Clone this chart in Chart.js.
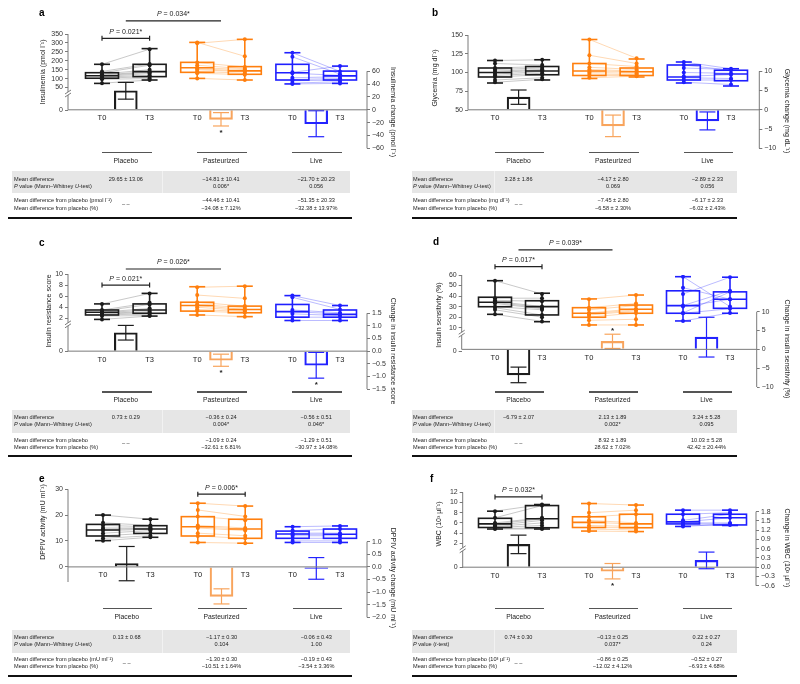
<!DOCTYPE html>
<html>
<head>
<meta charset="utf-8">
<title>Figure</title>
<script src="https://cdn.jsdelivr.net/npm/chart.js@4.4.1/dist/chart.umd.min.js"></script>
<style>
  html, body { margin: 0; padding: 0; background: #fff; }
  body { position: relative; width: 800px; height: 684px; overflow: hidden; font-family: "Liberation Sans", Arial, sans-serif; color: #222; }
  canvas { position: absolute; }
  .t { position: absolute; white-space: nowrap; line-height: 1; }
  .r { position: absolute; }
</style>
</head>
<body>
<script>
// Shared labels
const groupNames = ["Placebo", "Pasteurized", "Live"];
const timeLabels = ["T0", "T3", "T0", "T3", "T0", "T3"];

// Boxes are [min, q1, median, q3, max] for Placebo T0, T3, Pasteurized T0, T3, Live T0, T3
// Pairs are [T0, T3] per subject

// a - insulinemia
const aBoxes = [[73, 102, 116, 133, 180], [92, 111, 139, 180, 268], [101, 135, 161, 191, 303], [92, 124, 143, 167, 320], [70, 92, 133, 180, 245], [73, 92, 115, 142, 170]];
const aPlacebo = [[180, 265], [140, 182], [132, 175], [125, 150], [120, 140], [116, 135], [112, 128], [108, 118], [103, 110], [96, 100], [74, 92]];
const aPasteurized = [[303, 225], [298, 320], [190, 165], [175, 155], [162, 150], [155, 143], [150, 138], [140, 130], [130, 122], [101, 92]];
const aLive = [[245, 140], [222, 125], [135, 170], [130, 118], [105, 110], [95, 100], [88, 92], [75, 82], [70, 73]];
const aChange = [29.65, -14.81, -21.70];
const aChangeSE = [13.06, 10.41, 20.23];
const aStars = [0, 1, 0];
const aPValue = ["", "0.006*", "0.056"];
const aFromPlacebo = ["", "−44.46 ± 10.41", "−51.35 ± 20.33"];
const aFromPlaceboPct = ["", "−34.08 ± 7.12%", "−32.38 ± 13.97%"];
const aLeftTicks = [50, 100, 150, 200, 250, 300, 350];
const aRightTicks = [-60, -40, -20, 0, 20, 40, 60];

// b - glycemia
const bBoxes = [[86, 94, 100, 106, 116], [90, 97, 102, 108, 117], [92, 96, 102, 112, 144], [94, 96, 101, 106, 118], [86, 90, 94, 110, 114], [82, 89, 98, 103, 105]];
const bPlacebo = [[116, 117], [112, 110], [106, 108], [104, 106], [102, 104], [100, 103], [98, 101], [96, 99], [94, 97], [90, 93], [87, 91]];
const bPasteurized = [[144, 119], [123, 112], [112, 108], [107, 104], [104, 102], [102, 101], [100, 99], [98, 97], [96, 96], [93, 95]];
const bLive = [[114, 105], [110, 103], [106, 104], [100, 99], [95, 97], [93, 92], [90, 90], [87, 84]];
const bChange = [3.28, -4.17, -2.89];
const bChangeSE = [1.86, 2.80, 2.33];
const bStars = [0, 0, 0];
const bPValue = ["", "0.069", "0.056"];
const bFromPlacebo = ["", "−7.45 ± 2.80", "−6.17 ± 2.33"];
const bFromPlaceboPct = ["", "−6.58 ± 2.30%", "−6.02 ± 2.43%"];
const bLeftTicks = [50, 75, 100, 125, 150];
const bRightTicks = [-10, -5, 0, 5, 10];

// c - insulin resistance
const cBoxes = [[1.8, 2.6, 3.1, 3.5, 4.6], [2.4, 2.9, 3.5, 4.6, 6.5], [2.6, 3.3, 4.3, 4.9, 7.7], [2.3, 3.0, 3.6, 4.2, 7.8], [1.6, 2.2, 3.2, 4.5, 6.1], [1.6, 2.2, 2.7, 3.5, 4.3]];
const cPlacebo = [[4.6, 6.5], [3.5, 4.8], [3.3, 4.5], [3.1, 3.8], [3.0, 3.5], [2.9, 3.2], [2.8, 3.0], [2.6, 2.8], [2.4, 2.5], [1.8, 2.4]];
const cPasteurized = [[7.6, 7.8], [6.2, 5.6], [4.9, 4.2], [4.5, 3.9], [4.3, 3.6], [4.0, 3.4], [3.6, 3.2], [3.3, 3.0], [2.6, 2.3]];
const cLive = [[6.1, 4.3], [5.8, 3.6], [3.5, 3.0], [3.2, 2.8], [2.8, 2.5], [2.2, 2.2], [1.6, 1.6]];
const cChange = [0.73, -0.36, -0.56];
const cChangeSE = [0.29, 0.24, 0.51];
const cStars = [0, 1, 1];
const cPValue = ["", "0.004*", "0.046*"];
const cFromPlacebo = ["", "−1.09 ± 0.24", "−1.29 ± 0.51"];
const cFromPlaceboPct = ["", "−32.61 ± 6.81%", "−30.97 ± 14.08%"];
const cLeftTicks = [2, 4, 6, 8, 10];
const cRightTicks = [-1.5, -1, -0.5, 0, 0.5, 1, 1.5];

// d - insulin sensitivity
const dBoxes = [[22.7, 29.9, 34.1, 38.9, 54.6], [15.7, 22.1, 30, 35.6, 42.7], [12.6, 19.9, 23.7, 29, 37.3], [12.6, 23.7, 27.5, 31.5, 41], [16.4, 23.7, 30.9, 45, 58.4], [23.7, 28.4, 37, 44, 57.9]];
const dPlacebo = [[54.6, 42], [38, 38], [36, 35], [35, 30], [34, 29], [33, 28], [30, 27], [29, 22], [27, 20], [22.7, 16]];
const dPasteurized = [[37, 41], [29, 33], [27, 31], [24, 28], [23, 27], [22, 26], [20, 24], [17, 18], [12.6, 12.6]];
const dLive = [[58.4, 30], [48, 37], [42, 57.9], [31, 45], [30, 37], [24, 44], [23.7, 28], [16.4, 24]];
const dChange = [-6.79, 2.13, 3.24];
const dChangeSE = [2.07, 1.89, 5.28];
const dStars = [0, 1, 0];
const dPValue = ["", "0.002*", "0.095"];
const dFromPlacebo = ["", "8.92 ± 1.89", "10.03 ± 5.28"];
const dFromPlaceboPct = ["", "28.62 ± 7.02%", "42.42 ± 20.44%"];
const dLeftTicks = [10, 20, 30, 40, 50, 60];
const dRightTicks = [-10, -5, 0, 5, 10];

// e - DPPIV activity
const eBoxes = [[10.1, 11.9, 14.2, 16.4, 20], [11.4, 12.9, 14.6, 15.9, 18.4], [9.4, 11.9, 15.5, 19.4, 24.6], [9.1, 11, 14.6, 18.4, 23.5], [9.4, 11, 12.7, 13.8, 15.5], [9.4, 11, 12.6, 14.6, 15.8]];
const ePlacebo = [[20, 18.4], [17, 16], [16, 15.5], [15, 15], [14.5, 14.8], [14, 14.5], [13, 14], [12, 13], [11, 12], [10.1, 11.4]];
const ePasteurized = [[24.6, 23.5], [22, 19.5], [19.5, 18], [16, 15], [15.5, 14.5], [15, 14], [13, 12], [11.9, 11], [9.4, 9.1]];
const eLive = [[15.5, 15.8], [14, 14.6], [13, 13], [12.5, 12.6], [12, 12], [11, 11], [10, 10], [9.4, 9.4]];
const eChange = [0.13, -1.17, -0.06];
const eChangeSE = [0.68, 0.30, 0.43];
const eStars = [0, 0, 0];
const ePValue = ["", "0.104", "1.00"];
const eFromPlacebo = ["", "−1.30 ± 0.30", "−0.19 ± 0.43"];
const eFromPlaceboPct = ["", "−10.51 ± 1.64%", "−3.54 ± 3.36%"];
const eLeftTicks = [0, 10, 20, 30];
const eRightTicks = [-2, -1.5, -1, -0.5, 0, 0.5, 1];

// f - white blood cells
const fBoxes = [[4.8, 5.1, 5.8, 6.9, 8.3], [4.8, 5.05, 6.8, 9.4, 9.6], [4.4, 5.1, 6.1, 7.2, 9.8], [4.3, 5.05, 5.8, 7.7, 9.5], [5.3, 5.8, 6.2, 7.7, 8.5], [5.5, 5.6, 7.0, 7.7, 8.5]];
const fPlacebo = [[8.3, 9.6], [7, 9.4], [6, 7], [5.8, 6.8], [5.5, 6.5], [5.3, 6], [5.1, 5.5], [4.9, 5.0], [4.8, 4.8]];
const fPasteurized = [[9.8, 9.5], [8, 8.5], [7.2, 7.7], [6.5, 6.0], [6.1, 5.8], [5.5, 5.3], [5.1, 5.05], [4.8, 4.6], [4.4, 4.3]];
const fLive = [[8.5, 8.5], [7.7, 8.0], [6.5, 7.7], [6.2, 7.0], [6.0, 6.0], [5.8, 5.8], [5.5, 5.6], [5.3, 5.8]];
const fChange = [0.74, -0.13, 0.22];
const fChangeSE = [0.30, 0.25, 0.27];
const fStars = [0, 1, 0];
const fPValue = ["", "0.037*", "0.24"];
const fFromPlacebo = ["", "−0.86 ± 0.25", "−0.52 ± 0.27"];
const fFromPlaceboPct = ["", "−12.02 ± 4.12%", "−6.93 ± 4.68%"];
const fLeftTicks = [2, 4, 6, 8, 10, 12];
const fRightTicks = [-0.6, -0.3, 0, 0.3, 0.6, 0.9, 1.2, 1.5, 1.8];

const mwLabel = "<i>P</i> value (Mann–Whitney <i>U</i>-test)";
const pctLabel = "Mean difference from placebo (%)";

// Panel layout (page pixels); axis anchors are [value, y] pairs
const panels = [
  { key: "a", col: 0, row: 0, top: 0, height: 168, letter: [42, 13],
    boxes: aBoxes, pairs: [aPlacebo, aPasteurized, aLive], change: aChange, se: aChangeSE, stars: aStars,
    pval: aPValue, fromPl: aFromPlacebo, fromPlPct: aFromPlaceboPct,
    leftTicks: aLeftTicks, leftDec: 0, rightTicks: aRightTicks, rightDec: 0,
    area: { left: 68, right: 367, top: 34, bottom: 148.3 }, xAt: [102, 340],
    leftAnchor: [[350, 34], [50, 87.5]], zeroY: 110, broken: true,
    rightAnchor: [[60, 71.3], [-60, 148.3]],
    leftTitle: ["Insulinemia (pmol l⁻¹)", 43, 72], rightTitle: ["Insulinemia change (pmol l⁻¹)", 393, 112],
    brackets: [{ from: 0, to: 1, at: 326, text: "0.021*", ends: true }, { from: 0.5, to: 2.5, at: 424, text: "0.034*", ends: false }],
    rowLabels: ["Mean difference", mwLabel, "Mean difference from placebo (pmol l⁻¹)", pctLabel] },
  { key: "b", col: 1, row: 0, top: 0, height: 168, letter: [435, 13],
    boxes: bBoxes, pairs: [bPlacebo, bPasteurized, bLive], change: bChange, se: bChangeSE, stars: bStars,
    pval: bPValue, fromPl: bFromPlacebo, fromPlPct: bFromPlaceboPct,
    leftTicks: bLeftTicks, leftDec: 0, rightTicks: bRightTicks, rightDec: 0,
    area: { left: 468, right: 759.3, top: 35, bottom: 148.3 }, xAt: [495, 731],
    leftAnchor: [[150, 35], [50, 110]], zeroY: 110, broken: false,
    rightAnchor: [[10, 71.3], [-10, 148.3]],
    leftTitle: ["Glycemia (mg dl⁻¹)", 435, 78], rightTitle: ["Glycemia change (mg dL⁻¹)", 787, 111],
    brackets: [],
    rowLabels: ["Mean difference", mwLabel, "Mean difference from placebo (mg dl⁻¹)", pctLabel] },
  { key: "c", col: 0, row: 1, top: 228, height: 178, letter: [42, 243],
    boxes: cBoxes, pairs: [cPlacebo, cPasteurized, cLive], change: cChange, se: cChangeSE, stars: cStars,
    pval: cPValue, fromPl: cFromPlacebo, fromPlPct: cFromPlaceboPct,
    leftTicks: cLeftTicks, leftDec: 0, rightTicks: cRightTicks, rightDec: 1,
    area: { left: 68, right: 367, top: 274, bottom: 389 }, xAt: [102, 340],
    leftAnchor: [[10, 274], [2, 318.3]], zeroY: 351, broken: true,
    rightAnchor: [[1.5, 313.3], [-1.5, 389]],
    leftTitle: ["Insulin resistance score", 49, 311], rightTitle: ["Change in insulin resistance score", 393, 351],
    brackets: [{ from: 0, to: 1, at: 8.0, text: "0.021*", ends: true }, { from: 0.5, to: 2.5, at: 10.9, text: "0.026*", ends: false }],
    rowLabels: ["Mean difference", mwLabel, "Mean difference from placebo", pctLabel] },
  { key: "d", col: 1, row: 1, top: 228, height: 178, letter: [436, 242],
    boxes: dBoxes, pairs: [dPlacebo, dPasteurized, dLive], change: dChange, se: dChangeSE, stars: dStars,
    pval: dPValue, fromPl: dFromPlacebo, fromPlPct: dFromPlaceboPct,
    leftTicks: dLeftTicks, leftDec: 0, rightTicks: dRightTicks, rightDec: 0,
    area: { left: 461.7, right: 756.7, top: 275, bottom: 387 }, xAt: [495, 730],
    leftAnchor: [[60, 275], [10, 327.7]], zeroY: 351, broken: true,
    rightAnchor: [[10, 311.7], [-10, 387]],
    leftTitle: ["Insulin sensitivity (%)", 439, 315], rightTitle: ["Change in insulin sensitivity (%)", 787, 349],
    brackets: [{ from: 0, to: 1, at: 67.9, text: "0.017*", ends: true }, { from: 0.5, to: 2.5, at: 83.8, text: "0.039*", ends: false }],
    rowLabels: ["Mean difference", mwLabel, "Mean difference from placebo", pctLabel] },
  { key: "e", col: 0, row: 2, top: 462, height: 166, letter: [42, 479],
    boxes: eBoxes, pairs: [ePlacebo, ePasteurized, eLive], change: eChange, se: eChangeSE, stars: eStars,
    pval: ePValue, fromPl: eFromPlacebo, fromPlPct: eFromPlaceboPct,
    leftTicks: eLeftTicks, leftDec: 0, rightTicks: eRightTicks, rightDec: 1,
    area: { left: 68, right: 367, top: 489.3, bottom: 617.3 }, xAt: [103, 340],
    leftAnchor: [[30, 489.3], [0, 566.7]], zeroY: 566.7, broken: false, axisBottom: 582,
    rightAnchor: [[1, 541.7], [-2, 617.3]],
    leftTitle: ["DPPIV activity (mU ml⁻¹)", 43, 522], rightTitle: ["DPPIV activity change (mU ml⁻¹)", 393, 578],
    brackets: [{ from: 2, to: 3, at: 28.1, text: "0.006*", ends: true }],
    rowLabels: ["Mean difference", mwLabel, "Mean difference from placebo (mU ml⁻¹)", pctLabel] },
  { key: "f", col: 1, row: 2, top: 462, height: 166, letter: [433, 479],
    boxes: fBoxes, pairs: [fPlacebo, fPasteurized, fLive], change: fChange, se: fChangeSE, stars: fStars,
    pval: fPValue, fromPl: fFromPlacebo, fromPlPct: fFromPlaceboPct,
    leftTicks: fLeftTicks, leftDec: 0, rightTicks: fRightTicks, rightDec: 1,
    area: { left: 462.7, right: 756, top: 492.3, bottom: 585.7 }, xAt: [495, 730],
    leftAnchor: [[12, 492.3], [2, 543.3]], zeroY: 567.5, broken: true,
    rightAnchor: [[1.8, 511.7], [-0.6, 585.7]],
    leftTitle: ["WBC (10³ µl⁻¹)", 439, 524], rightTitle: ["Change in WBC (10³ µl⁻¹)", 787, 548],
    brackets: [{ from: 0, to: 1, at: 11.1, text: "0.032*", ends: true }],
    rowLabels: ["Mean difference", "<i>P</i> value (<i>t</i>-test)", "Mean difference from placebo (10³ µl⁻¹)", pctLabel] }
];

const FONT = '"Liberation Sans", Arial, sans-serif';
const boxColors = ["#1c1c1c", "#ff7f0e", "#1f1fff"];
const pairColors = ["rgba(120,120,120,0.5)", "rgba(255,140,30,0.42)", "rgba(50,50,255,0.42)"];
const barColors = ["#1c1c1c", "#f8a45c", "#2323ff"];
const axisColor = "#7a7a7a";
const tableFont = 5.6;

const tableRows = [
  { line: 152.3, label: 160.7, band: [171, 193], rows: [179.7, 186.7, 201, 209.3], thick: 218 },
  { line: 392, label: 400, band: [410, 433], rows: [417.7, 425, 440.7, 448], thick: 456 },
  { line: 608.3, label: 616.5, band: [630, 652.7], rows: [637.7, 645.3, 660, 667.3], thick: 676 }
];
const tableCols = [
  { bandLeft: 12, bandRight: 350, labelX: 14, divider: 162, thick: [8, 352] },
  { bandLeft: 412, bandRight: 737, labelX: 413, divider: 494, thick: [412, 737] }
];

function fmt(v, dec) {
  return v.toFixed(dec).replace("-", "−");
}

function line(ctx, x1, y1, x2, y2) {
  ctx.beginPath();
  ctx.moveTo(x1, y1);
  ctx.lineTo(x2, y2);
  ctx.stroke();
}

// value at a given page y, from two [value, y] anchors
function linearFrom(anchor) {
  const [[v1, y1], [v2, y2]] = anchor;
  return y => v1 + (y - y1) * (v2 - v1) / (y2 - y1);
}

function drawP(ctx, cx, y, value) {
  const b = " = " + value;
  ctx.font = "italic 7px " + FONT;
  const wa = ctx.measureText("P").width;
  ctx.font = "7px " + FONT;
  const wb = ctx.measureText(b).width;
  const x = cx - (wa + wb) / 2;
  ctx.textAlign = "left";
  ctx.textBaseline = "middle";
  ctx.font = "italic 7px " + FONT;
  ctx.fillText("P", x, y);
  ctx.font = "7px " + FONT;
  ctx.fillText(b, x + wa, y);
}

function panelPlugin(p) {
  const ox = p.col * 400, oy = p.top;
  return {
    id: "panel_" + p.key,
    afterDatasetsDraw(chart) {
      const ctx = chart.ctx, xs = chart.scales.x, ys = chart.scales.y, yr = chart.scales.y2;
      ctx.save();
      // box plots
      p.boxes.forEach((b, i) => {
        const g = Math.floor(i / 2);
        const px = xs.getPixelForValue(i);
        const [mn, q1, md, q3, mx] = b.map(v => ys.getPixelForValue(v));
        ctx.strokeStyle = boxColors[g];
        ctx.lineWidth = 1.6;
        line(ctx, px, mn, px, mx);
        line(ctx, px - 8, mn, px + 8, mn);
        line(ctx, px - 8, mx, px + 8, mx);
        ctx.strokeRect(px - 16.5, q3, 33, q1 - q3);
        line(ctx, px - 16.5, md, px + 16.5, md);
      });
      // error bars on the change bars
      p.change.forEach((m, g) => {
        const x = xs.getPixelForValue(2 * g + 0.5);
        const y0 = yr.getPixelForValue(m - p.se[g]), y1 = yr.getPixelForValue(m + p.se[g]);
        ctx.strokeStyle = barColors[g];
        ctx.lineWidth = 1.2;
        line(ctx, x, y0, x, y1);
        line(ctx, x - 8, y0, x + 8, y0);
        line(ctx, x - 8, y1, x + 8, y1);
      });
      ctx.restore();
    },
    afterDraw(chart) {
      const ctx = chart.ctx, xs = chart.scales.x, ys = chart.scales.y, yr = chart.scales.y2;
      const area = chart.chartArea;
      const zero = yr.getPixelForValue(0);
      ctx.save();
      ctx.strokeStyle = axisColor;
      ctx.lineWidth = 1;
      // axis lines
      const lt = p.leftTicks;
      const leftBottom = p.axisBottom ? p.axisBottom - oy : zero;
      line(ctx, area.left, ys.getPixelForValue(lt[lt.length - 1]), area.left, leftBottom);
      const rt = p.rightTicks;
      line(ctx, area.right, yr.getPixelForValue(rt[rt.length - 1]), area.right, yr.getPixelForValue(rt[0]));
      line(ctx, area.left, zero, area.right, zero);
      if (p.broken) {
        const by = ys.getPixelForValue(lt[0]) + 6;
        ctx.fillStyle = "#fff";
        ctx.fillRect(area.left - 1, by - 1.5, 2, 3);
        line(ctx, area.left - 3, by + 0.5, area.left + 3, by - 3.5);
        line(ctx, area.left - 3, by + 3.5, area.left + 3, by - 0.5);
      }
      // T0 / T3 labels
      ctx.fillStyle = "#222";
      ctx.font = "7.5px " + FONT;
      ctx.textAlign = "center";
      ctx.textBaseline = "middle";
      timeLabels.forEach((t, i) => ctx.fillText(t, xs.getPixelForValue(i), zero + 8.5));
      // stars
      ctx.font = "bold 8px " + FONT;
      p.stars.forEach((s, g) => {
        if (!s) return;
        const m = p.change[g], e = p.se[g];
        const y = m < 0 ? yr.getPixelForValue(m - e) + 7 : yr.getPixelForValue(m + e) - 3;
        ctx.fillText("*", xs.getPixelForValue(2 * g + 0.5), y);
      });
      // axis titles
      ctx.font = "7px " + FONT;
      ctx.save();
      ctx.translate(p.leftTitle[1] - ox, p.leftTitle[2] - oy);
      ctx.rotate(-Math.PI / 2);
      ctx.fillText(p.leftTitle[0], 0, 0);
      ctx.restore();
      ctx.save();
      ctx.translate(p.rightTitle[1] - ox, p.rightTitle[2] - oy);
      ctx.rotate(Math.PI / 2);
      ctx.fillText(p.rightTitle[0], 0, 0);
      ctx.restore();
      // significance brackets
      p.brackets.forEach(b => {
        const y = ys.getPixelForValue(b.at);
        const x0 = xs.getPixelForValue(b.from), x1 = xs.getPixelForValue(b.to);
        ctx.strokeStyle = "#222";
        ctx.lineWidth = 1.2;
        line(ctx, x0, y, x1, y);
        if (b.ends) {
          line(ctx, x0, y - 2.5, x0, y + 2.5);
          line(ctx, x1, y - 2.5, x1, y + 2.5);
        }
        ctx.fillStyle = "#222";
        drawP(ctx, (x0 + x1) / 2, y - 6.5, b.text);
      });
      // panel letter
      ctx.font = "bold 10px " + FONT;
      ctx.textAlign = "left";
      ctx.fillStyle = "#000";
      ctx.fillText(p.key, p.letter[0] - ox - 3, p.letter[1] - oy);
      ctx.restore();
    }
  };
}

function addText(x, y, html, size, center) {
  const d = document.createElement("div");
  d.className = "t";
  d.innerHTML = html;
  d.style.left = x + "px";
  d.style.top = y + "px";
  d.style.fontSize = size + "px";
  d.style.transform = center ? "translate(-50%, -50%)" : "translate(0, -50%)";
  document.body.appendChild(d);
}

function addRect(x, y, w, h, color) {
  const d = document.createElement("div");
  d.className = "r";
  d.style.left = x + "px";
  d.style.top = y + "px";
  d.style.width = w + "px";
  d.style.height = h + "px";
  d.style.background = color;
  document.body.appendChild(d);
}

function buildTable(p, xs) {
  const ox = p.col * 400;
  const t = tableRows[p.row], c = tableCols[p.col];
  const cx = g => ox + xs.getPixelForValue(2 * g + 0.5);
  addRect(c.bandLeft, t.band[0], c.bandRight - c.bandLeft, t.band[1] - t.band[0], "#e6e6e6");
  addRect(c.divider, t.band[0], 1, t.band[1] - t.band[0], "#f2f2f2");
  groupNames.forEach((name, g) => {
    const x0 = ox + xs.getPixelForValue(2 * g), x1 = ox + xs.getPixelForValue(2 * g + 1) + 2;
    addRect(x0, t.line - 0.7, x1 - x0, 1.4, "#555");
    addText(cx(g), t.label, name, 6.8, true);
    addText(cx(g), t.rows[0], fmt(p.change[g], 2) + " ± " + p.se[g].toFixed(2), tableFont, true);
    if (g > 0) {
      addText(cx(g), t.rows[1], p.pval[g], tableFont, true);
      addText(cx(g), t.rows[2], p.fromPl[g], tableFont, true);
      addText(cx(g), t.rows[3], p.fromPlPct[g], tableFont, true);
    }
  });
  addText(cx(0), (t.rows[2] + t.rows[3]) / 2, "– –", tableFont, true);
  p.rowLabels.forEach((lab, i) => addText(c.labelX, t.rows[i], lab, tableFont, false));
  addRect(c.thick[0], t.thick - 1, c.thick[1] - c.thick[0], 2, "#111");
}

function drawPanel(p) {
  const ox = p.col * 400, oy = p.top;
  const canvas = document.createElement("canvas");
  canvas.width = 400;
  canvas.height = p.height;
  canvas.style.left = ox + "px";
  canvas.style.top = oy + "px";
  canvas.style.width = "400px";
  canvas.style.height = p.height + "px";
  document.body.appendChild(canvas);

  const L = linearFrom(p.leftAnchor), R = linearFrom(p.rightAnchor);
  const leftVals = p.broken ? [L(p.zeroY)].concat(p.leftTicks) : p.leftTicks;
  const step = (p.xAt[1] - p.xAt[0]) / 5;

  const datasets = [];
  p.pairs.forEach((pairs, g) => {
    pairs.forEach(pr => {
      datasets.push({
        type: "line", yAxisID: "y", order: 3,
        data: [{ x: 2 * g, y: pr[0] }, { x: 2 * g + 1, y: pr[1] }],
        borderColor: pairColors[g], borderWidth: 0.8, pointRadius: 0, fill: false
      });
    });
  });
  datasets.push({
    type: "bar", yAxisID: "y2", order: 2,
    data: p.change.map((v, g) => ({ x: 2 * g + 0.5, y: v })),
    backgroundColor: "rgba(255,255,255,0)", borderColor: barColors, borderWidth: 1.5,
    barThickness: 23, grouped: false
  });
  const pts = [], ptColors = [];
  p.pairs.forEach((pairs, g) => {
    pairs.forEach(pr => {
      pts.push({ x: 2 * g, y: pr[0] }, { x: 2 * g + 1, y: pr[1] });
      ptColors.push(boxColors[g], boxColors[g]);
    });
  });
  datasets.push({
    type: "scatter", yAxisID: "y", order: 1, data: pts,
    backgroundColor: ptColors, borderColor: ptColors, borderWidth: 0, pointRadius: 2
  });

  const tickFont = { family: FONT, size: 7 };
  const chart = new Chart(canvas, {
    type: "scatter",
    data: { datasets: datasets },
    options: {
      responsive: false,
      animation: false,
      devicePixelRatio: 1,
      events: [],
      layout: { padding: { top: p.area.top - oy, bottom: oy + p.height - p.area.bottom, left: 0, right: 0 } },
      plugins: { legend: { display: false }, tooltip: { enabled: false } },
      scales: {
        x: {
          type: "linear", display: false, offset: false,
          min: (p.area.left - p.xAt[0]) / step, max: (p.area.right - p.xAt[0]) / step
        },
        y: {
          type: "linear", position: "left", bounds: "data",
          min: L(p.area.bottom), max: L(p.area.top),
          afterBuildTicks: ax => { ax.ticks = leftVals.map(v => ({ value: v })); },
          afterFit: ax => { ax.width = p.area.left - ox; },
          ticks: {
            autoSkip: false, font: tickFont, color: "#333", padding: 2,
            callback: (v, i) => (p.broken && i === 0) ? "0" : fmt(v, p.leftDec)
          },
          grid: { drawOnChartArea: false, drawTicks: true, tickLength: 3, color: axisColor },
          border: { display: false }
        },
        y2: {
          type: "linear", position: "right", bounds: "data",
          min: R(p.area.bottom), max: R(p.area.top),
          afterBuildTicks: ax => { ax.ticks = p.rightTicks.map(v => ({ value: v })); },
          afterFit: ax => { ax.width = ox + 400 - p.area.right; },
          ticks: {
            autoSkip: false, font: tickFont, color: "#333", padding: 2,
            callback: v => fmt(v, p.rightDec)
          },
          grid: { drawOnChartArea: false, drawTicks: true, tickLength: 3, color: axisColor },
          border: { display: false }
        }
      }
    },
    plugins: [panelPlugin(p)]
  });
  buildTable(p, chart.scales.x);
}

panels.forEach(drawPanel);
</script>
</body>
</html>
